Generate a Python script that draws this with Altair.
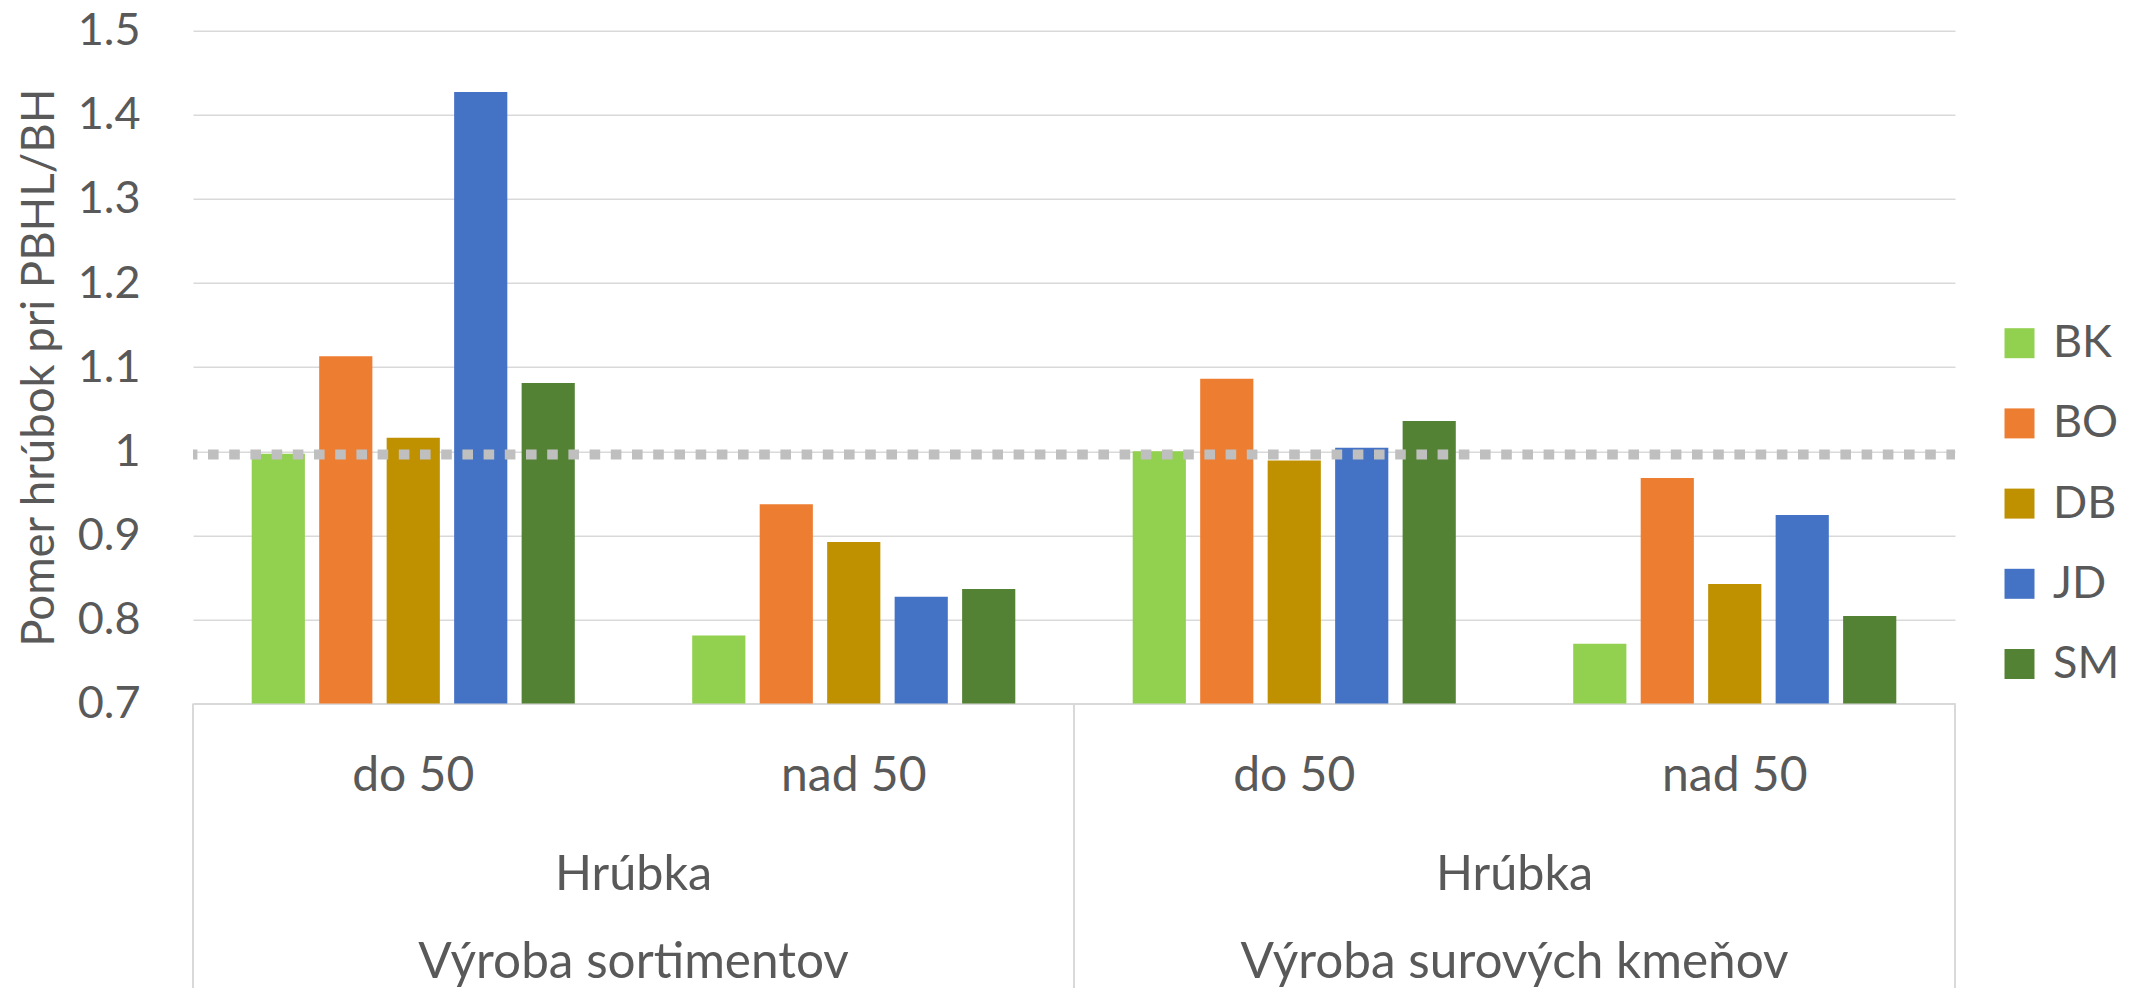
import altair as alt
import pandas as pd

# ---- data ----
groups = ["Výroba sortimentov", "Výroba surových kmeňov"]
sizes = ["do 50", "nad 50"]
level2_label = "Hrúbka"
species = ["BK", "BO", "DB", "JD", "SM"]
colors = ["#92D050", "#ED7D31", "#BF9000", "#4472C4", "#548235"]
sortimenty_do50 = [0.997, 1.113, 1.016, 1.427, 1.081]
sortimenty_nad50 = [0.781, 0.937, 0.892, 0.827, 0.836]
kmene_do50 = [1.000, 1.086, 0.989, 1.004, 1.036]
kmene_nad50 = [0.771, 0.968, 0.842, 0.924, 0.804]
reference_value = 0.996
y_ticks = [0.7, 0.8, 0.9, 1.0, 1.1, 1.2, 1.3, 1.4, 1.5]
y_title = "Pomer hrúbok pri PBHL/BH"

# ---- tables ----
series = [sortimenty_do50, sortimenty_nad50, kmene_do50, kmene_nad50]
cats = [f"{s}|{g}" for g in groups for s in sizes]
rows = []
for cat, vals in zip(cats, series):
    for sp, v in zip(species, vals):
        rows.append({"cat": cat, "species": sp, "value": v})
bars_df = pd.DataFrame(rows)
ref_df = pd.DataFrame({"ref": [reference_value]})
lvl_df = pd.DataFrame({"cat": [cats[0], cats[2]], "hr": [level2_label] * 2, "grp": groups})
sep_start_df = pd.DataFrame({"cat": [cats[0], cats[2]]})
sep_end_df = pd.DataFrame({"cat": [cats[3]]})

W = 1762
H = 672.8
FONT = "Lato"
TXT = "#595959"
GRID = "#D9D9D9"

xs = alt.Scale(domain=cats, paddingInner=0, paddingOuter=0)
ys = alt.Scale(domain=[0.7, 1.5], zero=False, nice=False)

x_axis = alt.Axis(
    title=None,
    labelExpr="split(datum.label, '|')[0]",
    domain=True, domainColor=GRID, domainWidth=2,
    ticks=False, grid=False, labelAngle=0,
    labelPadding=86.5, labelBaseline="alphabetic",
    labelFontSize=48, labelFont=FONT, labelColor=TXT,
)
y_axis = alt.Axis(
    values=y_ticks, format="~g", title=y_title,
    grid=True, gridColor=GRID, gridWidth=1.5,
    domain=False, ticks=False,
    labelPadding=53, labelFontSize=45, labelFont=FONT, labelColor=TXT,
    titleFontSize=45.5, titleFont=FONT, titleColor=TXT, titleFontWeight="normal",
    titleX=-139.7, titleY=336.5, titleAngle=270,
    titleAlign="center", titleBaseline="alphabetic",
)

bars = alt.Chart(bars_df).mark_bar().encode(
    x=alt.X("cat:N", scale=xs, axis=x_axis, sort=cats),
    xOffset=alt.XOffset("species:N", scale=alt.Scale(domain=species, paddingInner=0.212, paddingOuter=0.87)),
    y=alt.Y("value:Q", scale=ys, axis=y_axis),
    y2=alt.datum(0.7),
    color=alt.Color(
        "species:N",
        scale=alt.Scale(domain=species, range=colors),
        legend=alt.Legend(
            title=None, orient="none", legendX=1804, legendY=290,
            symbolType="square", symbolSize=900, symbolStrokeWidth=0, symbolOpacity=1,
            labelFontSize=45, labelFont=FONT, labelColor=TXT, labelOffset=11,
            rowPadding=34.2, padding=0,
        ),
    ),
)

ref = alt.Chart(ref_df).mark_rule(
    color="#BFBFBF", strokeWidth=10, strokeDash=[10.6, 10.6], strokeCap="butt", strokeDashOffset=2
).encode(y=alt.Y("ref:Q", scale=ys, axis=y_axis))

lvl2 = alt.Chart(lvl_df).mark_text(
    align="center", baseline="alphabetic", fontSize=48.5, font=FONT, color=TXT
).encode(
    x=alt.X("cat:N", bandPosition=1, scale=xs, axis=x_axis),
    y=alt.value(859.3),
    text="hr:N",
)
lvl3 = alt.Chart(lvl_df).mark_text(
    align="center", baseline="alphabetic", fontSize=49.5, font=FONT, color=TXT
).encode(
    x=alt.X("cat:N", bandPosition=1, scale=xs, axis=x_axis),
    y=alt.value(947.3),
    text="grp:N",
)
sep_kw = dict(color=GRID, strokeWidth=2)
sep1 = alt.Chart(sep_start_df).mark_rule(**sep_kw).encode(
    x=alt.X("cat:N", bandPosition=0, scale=xs, axis=x_axis),
    y=alt.value(H), y2=alt.value(H + 300),
)
sep2 = alt.Chart(sep_end_df).mark_rule(**sep_kw).encode(
    x=alt.X("cat:N", bandPosition=1, scale=xs, axis=x_axis),
    y=alt.value(H), y2=alt.value(H + 300),
)

chart = alt.layer(bars, ref, sep1, sep2, lvl2, lvl3).properties(
    width=W, height=H,
    autosize=alt.AutoSizeParams(type="none"),
    padding={"left": 185, "top": 22.7, "right": 170, "bottom": 284.5},
    background="white",
).configure_view(strokeWidth=0)

chart.save("out.html", embed_options={"renderer": "svg", "actions": False})
